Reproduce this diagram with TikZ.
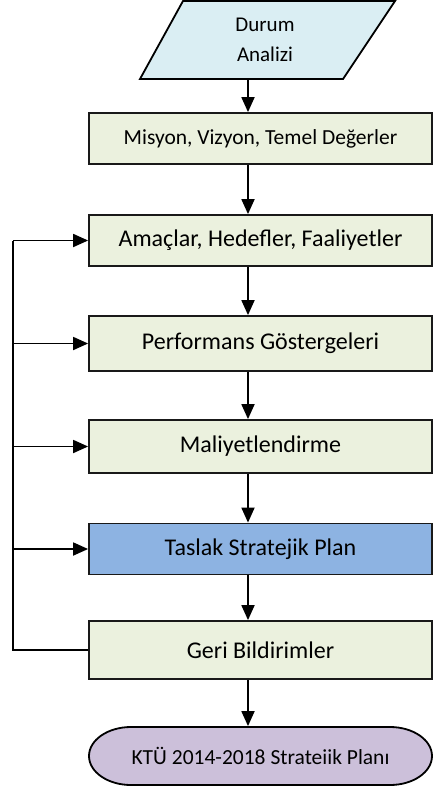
\documentclass[tikz,border=0pt]{standalone}
\usepackage{fontspec}
\setmainfont{Carlito}
\usepackage{xcolor}
\usetikzlibrary{arrows.meta}

\definecolor{girdi}{HTML}{DAEEF3}
\definecolor{adim}{HTML}{EBF1DE}
\definecolor{taslakmavi}{HTML}{8DB3E2}
\definecolor{sonuc}{HTML}{CCC0DA}

\begin{document}
\begin{tikzpicture}[x=1pt,y=-1pt,line width=1.8pt,
    kutu/.style={draw=black!90, fill=adim, minimum width=343pt, inner sep=0pt,
      font=\fontsize{24}{28}\selectfont},
    ok/.style={-{Triangle[length=15pt,width=13pt]}}]
  \useasboundingbox (0,0) rectangle (433,787);

  % Durum Analizi (parallelogram)
  \draw[fill=girdi] (183,1) -- (395,1) -- (343,79) -- (140,79) -- cycle;
  \node[align=center, font=\fontsize{21}{30}\selectfont, minimum height=78pt, inner sep=0pt]
    (durum) at (265,40) {Durum\\Analizi};

  % Steps
  \node[kutu, minimum height=51pt, font=\fontsize{21.5}{25}\selectfont] (misyon) at (260.5,138.5) {Misyon, Vizyon, Temel Değerler};
  \node[kutu, minimum height=51pt] (amac)   at (260.5,240.5) {Amaçlar, Hedefler, Faaliyetler};
  \node[kutu, minimum height=55pt] (perf)   at (260.5,343.5) {Performans Göstergeleri};
  \node[kutu, minimum height=53pt] (mali)   at (260.5,446.5) {Maliyetlendirme};
  \node[kutu, minimum height=51pt, fill=taslakmavi] (taslak) at (260.5,549) {Taslak Stratejik Plan};
  \node[kutu, minimum height=58pt] (geri)   at (260.5,650) {Geri Bildirimler};

  % KTU plan (stadium with elliptic ends)
  \draw[fill=sonuc] (131,727) -- (390,727)
    .. controls (413.2,727) and (432,740) .. (432,756)
    .. controls (432,772) and (413.2,785) .. (390,785) -- (131,785)
    .. controls (107.8,785) and (89,772) .. (89,756)
    .. controls (89,740) and (107.8,727) .. (131,727) -- cycle;
  \node[minimum width=343pt, minimum height=58pt, inner sep=0pt,
    font=\fontsize{21.5}{25}\selectfont] (plan) at (260.5,756) {KTÜ 2014-2018 Strateiik Planı};

  % Connectors
  \coordinate (spine) at (248,0);
  \coordinate (loop) at (13,0);
  \draw[ok] (durum.south -| spine) -- (misyon.north -| spine);
  \draw[ok] (misyon.south -| spine) -- (amac.north -| spine);
  \draw[ok] (amac.south -| spine) -- (perf.north -| spine);
  \draw[ok] (perf.south -| spine) -- (mali.north -| spine);
  \draw[ok] (mali.south -| spine) -- (taslak.north -| spine);
  \draw[ok] (taslak.south -| spine) -- (geri.north -| spine);
  \draw[ok] (geri.south -| spine) -- (plan.north -| spine);

  % Feedback loop
  \draw (geri.west) -- (geri.west -| loop) -- (amac.west -| loop);
  \foreach \n in {amac,perf,mali,taslak}
    \draw[ok] (\n.west -| loop) -- (\n.west);
\end{tikzpicture}
\end{document}
